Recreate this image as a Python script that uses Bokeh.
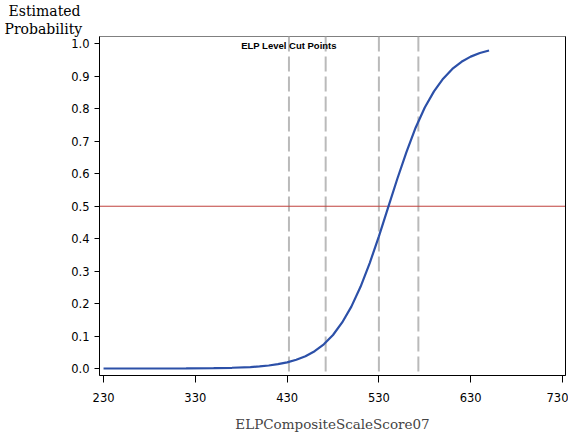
from bokeh.plotting import figure
from bokeh.models import Span, Label, LinearAxis, FixedTicker, Range1d, NumeralTickFormatter, Title
from bokeh.embed import file_html
from bokeh.resources import INLINE

# ---- data ----
scores = [230, 260, 290, 320, 350, 370, 390, 400, 410, 420, 430, 440, 450, 460,
          470, 480, 490, 500, 510, 520, 530, 540, 550, 560, 570, 580, 590, 600,
          610, 620, 630, 640, 650]
probs = [0.0000, 0.0000, 0.0001, 0.0004, 0.0011, 0.0023, 0.0046, 0.0066, 0.0094,
         0.0134, 0.0189, 0.0269, 0.0380, 0.0534, 0.0745, 0.1033, 0.1419, 0.1906,
         0.2517, 0.3248, 0.4073, 0.4955, 0.584, 0.667, 0.742, 0.804, 0.854, 0.893,
         0.923, 0.945, 0.961, 0.972, 0.980]
cut_points = [432, 472, 530, 573]
threshold = 0.5
x_ticks = [230, 330, 430, 530, 630, 730]
y_ticks = [0.0, 0.1, 0.2, 0.3, 0.4, 0.5, 0.6, 0.7, 0.8, 0.9, 1.0]
x_title = "ELPCompositeScaleScore07"
y_title_lines = ["Estimated", "Probability"]
y_title_offsets = [-91, -95]
cut_label = "ELP Level Cut Points"

X_START, X_END = 225.6, 733.3
Y_START, Y_END = -0.0215, 1.023

p = figure(width=568, height=434, x_range=Range1d(X_START, X_END),
           y_range=Range1d(Y_START, Y_END), output_backend="svg",
           toolbar_location=None, title=None,
           min_border_left=99, min_border_right=3, min_border_top=36,
           min_border_bottom=59)
p.background_fill_color = "white"
p.border_fill_color = "white"
p.outline_line_color = "#808080"
p.outline_line_width = 1
p.xgrid.visible = False
p.ygrid.visible = False

# axes
xa = p.xaxis[0]
xa.ticker = FixedTicker(ticks=x_ticks)
xa.minor_tick_line_color = None
xa.major_tick_out = 7
xa.major_tick_in = 0
xa.major_label_standoff = 10
xa.major_label_text_font = "DejaVu Sans"
xa.major_label_text_font_size = "11.5px"
xa.major_label_text_color = "black"
xa.axis_line_color = "black"
xa.major_tick_line_color = "black"
xa.axis_label = x_title
xa.axis_label_text_font = "DejaVu Serif"
xa.axis_label_text_font_size = "13.5px"
xa.axis_label_text_font_style = "normal"
xa.axis_label_standoff = 11

ya = p.yaxis[0]
ya.ticker = FixedTicker(ticks=y_ticks)
ya.formatter = NumeralTickFormatter(format="0.0")
ya.minor_tick_line_color = None
ya.major_tick_out = 5
ya.major_tick_in = 0
ya.major_label_standoff = 5
ya.major_label_text_font = "DejaVu Sans"
ya.major_label_text_font_size = "11.5px"
ya.major_label_text_color = "black"
ya.axis_line_color = "black"
ya.major_tick_line_color = "black"

ra = LinearAxis(ticker=FixedTicker(ticks=[]), axis_line_color="black",
                major_tick_out=0, major_tick_in=0, minor_tick_out=0, minor_tick_in=0)
p.add_layout(ra, "right")

# reference lines
for c in cut_points:
    p.add_layout(Span(location=c, dimension="height", line_color="#bababa",
                      line_width=2, line_dash="15 5", level="underlay"))
p.add_layout(Span(location=threshold, dimension="width", line_color="#c0403c",
                  line_width=1, level="underlay"))

# curve
p.line(scores, probs, line_color="#2c50a8", line_width=2.2)

# cut point label
p.add_layout(Label(x=cut_points[0], y=Y_END, y_offset=-9, text=cut_label,
                   text_align="center", text_baseline="middle",
                   text_font="Liberation Sans", text_font_style="bold",
                   text_font_size="9.5px", text_color="black"))

# y title (horizontal, top-left), stacked titles: first added is nearest the frame
for line, off in reversed(list(zip(y_title_lines, y_title_offsets))):
    p.add_layout(Title(text=line, align="left", offset=off, standoff=0,
                       text_font="DejaVu Serif", text_font_size="14px",
                       text_font_style="normal", text_color="black"), "above")

open("out.html", "w").write(file_html(p, INLINE))
